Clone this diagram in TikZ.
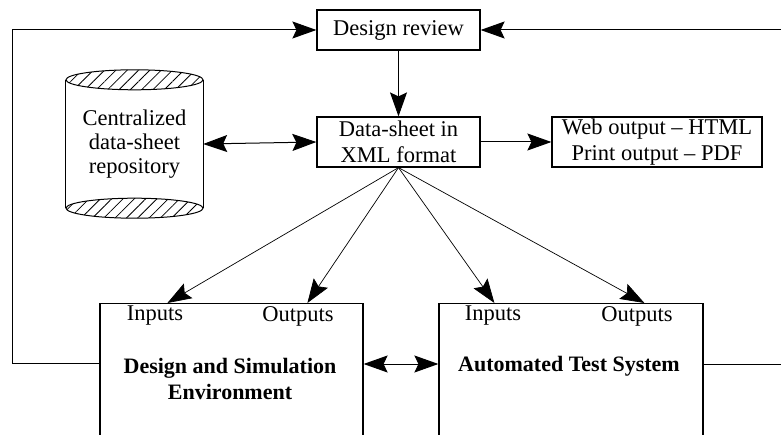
\documentclass[tikz,border=0pt]{standalone}
\usepackage{fontspec}
\setmainfont{Liberation Serif}
\usetikzlibrary{arrows.meta,patterns.meta,calc}
\def\rx{68.5pt}
\def\ry{10pt}
\def\off{61pt}

\begin{document}
\begin{tikzpicture}[x=1pt, y=-1pt,
    font=\fontsize{22.5}{26}\selectfont,
    box/.style={draw, line width=1.2pt, align=center, inner sep=0pt},
    txt/.style={align=center, inner sep=0pt},
    head/.tip={Stealth[length=24pt,width=17pt,inset=4pt]},
    flowarr/.style={-head, line width=1pt},
    fanarr/.style={-head, line width=0.7pt},
    twoway/.style={head-head, line width=1pt},
    hatch/.style={draw, line width=1pt, pattern={Lines[angle=45,distance=8pt,line width=0.8pt]}}]
  \useasboundingbox (0,0) rectangle (781,435);

  % boxes
  \node[box, minimum width=163pt, minimum height=40pt] (review) at (398.5,30) {Design review};
  \node[box, minimum width=163pt, minimum height=50pt] (xml) at (398.5,142) {Data-sheet in\\XML format};
  \node[box, minimum width=210pt, minimum height=50pt] (web) at (657,142) {Web output -- HTML\\Print output -- PDF};

  % repository cylinder
  \node[txt, minimum width=137pt, minimum height=128pt] (repo) at (134.5,144) {Centralized\\[-2pt]data-sheet\\[-2pt]repository};
  \draw[line width=1pt] (repo.north west) -- (repo.south west);
  \draw[line width=1pt] (repo.north east) -- (repo.south east);
  \draw[hatch] (repo.north) ellipse [x radius=\rx, y radius=\ry];
  \draw[hatch] (repo.south) ellipse [x radius=\rx, y radius=\ry];

  % lower blocks (run past the bottom edge)
  \node[box, minimum width=263pt, minimum height=160pt, anchor=north] (dse) at (231.5,303) {};
  \node[box, minimum width=264pt, minimum height=160pt, anchor=north] (ats) at (571,303) {};
  \node[txt] (dseIn) at (155,316) {Inputs};
  \node[txt] (dseOut) at (298,316) {Outputs};
  \node[txt] (atsIn) at (493,316) {Inputs};
  \node[txt] (atsOut) at (637,316) {Outputs};
  \node[txt, font=\fontsize{22}{26}\selectfont\bfseries] (dseName) at (230,379) {Design and Simulation\\Environment};
  \node[txt, font=\fontsize{22}{26}\selectfont\bfseries] (atsName) at (569,366) {Automated Test System};

  % arrows
  \draw[flowarr] (review) -- (xml);
  \draw[flowarr] (xml) -- (web);
  \draw[twoway] (repo.east) -- (xml.west);
  \draw[fanarr] (xml.south) -- ($(dse.north west)+(68,0)$);
  \draw[fanarr] (xml.south) -- ($(dse.north west)+(208,0)$);
  \draw[fanarr] (xml.south) -- ($(ats.north west)+(56,0)$);
  \draw[fanarr] (xml.south) -- ($(ats.north west)+(206,0)$);
  \draw[twoway] ([yshift=-\off]dse.north east) -- ([yshift=-\off]ats.north west);

  % feedback loops
  \coordinate (cornerL) at (12,363);
  \coordinate (cornerR) at (800,364);
  \draw[flowarr] ([yshift=-60pt]dse.north west) -- (cornerL) |- (review.west);
  \draw[flowarr] ([yshift=-\off]ats.north east) -- (cornerR) |- (review.east);
\end{tikzpicture}
\end{document}
